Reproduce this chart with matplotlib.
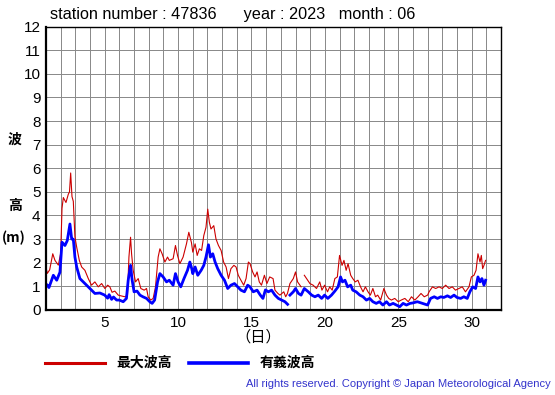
import matplotlib
matplotlib.use("Agg")
import matplotlib.pyplot as plt
import numpy as np

plt.rcParams["font.family"] = ["Liberation Sans", "Noto Sans CJK JP", "DejaVu Sans"]

STATION = "47836"
YEAR = "2023"
MONTH = "06"

# ── data (day of month, metres) ─────────────────────────────────────────────
max_day = [1.0, 1.09, 1.25, 1.46, 1.61, 1.84, 2.0, 2.09, 2.18, 2.36, 2.52, 2.6, 2.68, 2.77,
           2.86, 2.97, 3.09, 3.27, 3.43, 3.65, 3.88, 4.1, 4.33, 4.56, 4.79, 5.01, 5.2, 5.35,
           5.5, 5.69, 5.92, 6.1, 6.37, 6.55, 6.65, 6.76, 6.83, 6.94, 7.1, 7.28, 7.46, 7.69,
           7.85, 7.96, 8.14, 8.3, 8.46, 8.64, 8.76, 8.91, 9.1, 9.28, 9.4, 9.66, 9.82, 9.96,
           10.12, 10.34, 10.57, 10.73, 10.91, 11.0, 11.16, 11.3, 11.45, 11.6, 11.75, 11.9,
           12.02, 12.13, 12.24, 12.43, 12.58, 12.75, 12.93, 13.1, 13.27, 13.43, 13.6, 13.8,
           13.95, 14.1, 14.28, 14.47, 14.63, 14.79, 14.9, 15.08, 15.24, 15.38, 15.53, 15.68,
           15.88, 16.05, 16.24, 16.47, 16.6, 16.8, 16.94, 17.2, 17.33, 17.45, 17.62, 17.85,
           18.0, 18.14, 18.3, 18.38, 18.45, 18.6, 18.75, 18.98, 19.2, 19.43, 19.65, 19.8,
           19.98, 20.18, 20.33, 20.5, 20.68, 20.85, 21.0, 21.17, 21.3, 21.45, 21.58, 21.76,
           21.9, 22.07, 22.25, 22.43, 22.6, 22.76, 22.94, 23.1, 23.27, 23.45, 23.6, 23.8,
           24.02, 24.2, 24.35, 24.53, 24.76, 25.0, 25.2, 25.45, 25.68, 25.9, 26.13, 26.35,
           26.55, 26.77, 27.0, 27.1, 27.33, 27.55, 27.78, 28.0, 28.23, 28.46, 28.68, 28.9,
           29.13, 29.36, 29.58, 29.82, 29.98, 30.16, 30.3, 30.43, 30.57, 30.66, 30.75, 30.84,
           30.95]
max_wave = [1.8, 1.55, 1.7, 2.38, 2.1, 1.9, 2.4, 4.3, 4.76, 4.55, 4.9, 5.0, 5.8, 4.8,
            4.6, 3.1, 2.66, 2.1, 1.82, 1.68, 1.33, 1.05, 1.19, 0.98, 1.12, 0.91, 1.05, 0.98,
            0.75, 0.8, 0.63, 0.6, 0.56, 0.63, 2.24, 3.08, 2.38, 1.68, 1.19, 1.33, 0.91, 0.84,
            0.91, 0.56, 0.42, 0.49, 0.98, 2.24, 2.59, 2.38, 2.03, 2.24, 2.1, 2.17, 2.73, 2.31,
            1.96, 2.24, 2.8, 3.29, 2.85, 2.45, 2.8, 2.31, 2.59, 2.52, 3.15, 3.5,
            4.27, 3.71, 3.43, 3.57, 3.01, 2.73, 2.52, 2.03, 1.82, 1.33, 1.75, 1.89,
            1.82, 1.47, 1.26, 1.05, 1.33, 2.03, 1.96, 1.61, 1.4, 1.61, 1.19, 1.05,
            1.47, 1.12, 1.4, 1.33, 0.84, 0.7, 0.63, 0.77, 0.56, 0.7, 1.12, 1.33,
            1.61, 1.19, 1.05, 0.98, np.nan, 1.47, 1.33, 1.12, 1.05, 0.91, 1.19, 0.84,
            1.05, 0.77, 0.98, 0.84, 1.33, 1.4, 2.31, 1.89, 2.1, 1.68, 1.96, 1.47,
            1.33, 1.19, 1.26, 0.98, 0.77, 0.98, 0.77, 0.63, 0.91, 0.56, 0.63, 0.42,
            0.91, 0.63, 0.49, 0.42, 0.49, 0.35, 0.42, 0.49, 0.35, 0.56, 0.42, 0.56,
            0.7, 0.56, 0.63, 0.77, 0.98, 0.91, 0.98, 0.91, 1.05, 0.91, 0.98, 0.84,
            0.91, 0.98, 0.77, 0.98, 1.4, 1.47, 1.68, 2.38, 2.03, 2.31, 1.75, 1.89,
            2.1]

sig_day = [1.0, 1.09, 1.2, 1.5, 1.73, 1.95, 2.09, 2.29, 2.45, 2.63, 2.75, 2.86, 2.97, 3.09,
           3.31, 3.65, 3.99, 4.33, 4.67, 5.0, 5.2, 5.3, 5.47, 5.6, 5.81, 6.0, 6.26, 6.48,
           6.6, 6.76, 6.87, 7.0, 7.2, 7.4, 7.6, 7.85, 8.07, 8.23, 8.4, 8.6, 8.76, 8.98,
           9.21, 9.4, 9.66, 9.82, 10.0, 10.18, 10.4, 10.64, 10.8, 10.93, 11.0, 11.16, 11.34,
           11.57, 11.75, 11.9, 12.07, 12.2, 12.36, 12.52, 12.7, 12.93, 13.16, 13.38, 13.6,
           13.84, 14.06, 14.28, 14.52, 14.74, 14.9, 15.12, 15.38, 15.6, 15.78, 15.95, 16.15,
           16.37, 16.6, 16.83, 17.05, 17.28, 17.46, 17.54, 17.62, 17.85, 18.0, 18.2, 18.38,
           18.6, 18.87, 19.1, 19.32, 19.55, 19.78, 19.98, 20.2, 20.45, 20.68, 20.9, 21.07,
           21.2, 21.37, 21.55, 21.76, 21.9, 22.13, 22.38, 22.6, 22.83, 23.05, 23.27, 23.5,
           23.72, 23.95, 24.2, 24.4, 24.65, 24.88, 25.1, 25.33, 25.56, 25.8, 26.0, 26.3,
           26.66, 27.0, 27.2, 27.45, 27.67, 27.9, 28.1, 28.35, 28.57, 28.8, 29.0, 29.25,
           29.47, 29.7, 29.88, 30.07, 30.27, 30.43, 30.57, 30.7, 30.84, 30.95]
sig_wave = [1.1, 1.05, 0.95, 1.47, 1.26, 1.6, 2.87, 2.73, 2.94, 3.64, 3.0, 3.0, 2.24, 1.82,
            1.33, 1.12, 0.91, 0.7, 0.72, 0.63, 0.5, 0.65, 0.45, 0.55, 0.42, 0.42, 0.35, 0.49,
            1.26, 1.89, 1.26, 0.77, 0.8, 0.63, 0.56, 0.49, 0.35, 0.28, 0.42, 1.19, 1.54, 1.4,
            1.19, 1.26, 1.05, 1.54, 1.19, 0.98, 1.33, 1.68, 2.03, 1.75, 1.54, 1.82, 1.47,
            1.68, 1.89, 2.24, 2.76, 2.24, 2.38, 2.03, 1.75, 1.47, 1.26, 0.91, 1.05,
            1.12, 0.98, 0.84, 0.77, 1.05, 0.98, 0.77, 0.84, 0.63, 0.49, 0.85, 0.77,
            0.84, 0.63, 0.49, 0.42, 0.35, 0.24, np.nan, 0.63, 0.77, 0.91, 0.7, 0.63,
            0.91, 0.77, 0.63, 0.56, 0.63, 0.49, 0.63, 0.49, 0.63, 0.8, 0.98, 1.4,
            1.19, 1.26, 0.98, 1.05, 0.84, 0.77, 0.63, 0.56, 0.42, 0.49, 0.35, 0.28,
            0.35, 0.21, 0.35, 0.21, 0.28, 0.21, 0.14, 0.28, 0.21, 0.28, 0.3, 0.35,
            0.28, 0.21, 0.49, 0.56, 0.49, 0.56, 0.53, 0.6, 0.53, 0.63, 0.53, 0.49,
            0.56, 0.49, 0.77, 0.98, 0.91, 1.4, 1.19, 1.33, 1.05, 1.26]

x_ticks = [5, 10, 15, 20, 25, 30]
y_ticks = list(range(0, 13))

RED = "#cc0000"
BLUE = "#0000ff"

# ── figure ──────────────────────────────────────────────────────────────────
fig = plt.figure(figsize=(5.55, 3.95), dpi=100)
ax = fig.add_axes([0.0829, 0.2152, 0.8198, 0.7177])

ax.plot(max_day, max_wave, color=RED, linewidth=0.8)
ax.plot(sig_day, sig_wave, color=BLUE, linewidth=2.0)

ax.set_xlim(1, 32)
ax.set_ylim(0, 12)
ax.set_xticks(np.arange(1, 33), minor=True)
ax.set_xticks(x_ticks)
ax.set_yticks(y_ticks)
ax.grid(True, which="both", color="#888888", linewidth=0.7)
ax.set_axisbelow(True)
ax.tick_params(which="both", length=0, labelsize=11, pad=4)
for s in ax.spines.values():
    s.set_color("black")
    s.set_linewidth(1.0)
ax.spines["left"].set_linewidth(1.6)
ax.spines["bottom"].set_linewidth(1.6)

fig.text(50 / 555, 1 - 15 / 395,
         f"station number : {STATION}      year : {YEAR}   month : {MONTH}",
         fontsize=11.7, va="center", ha="left")

jp = ["Noto Sans CJK JP", "DejaVu Sans"]
for txt, y in [("波", 140), ("高", 206)]:
    fig.text(15 / 555, 1 - y / 395, txt, family=jp, fontsize=10, fontweight="bold",
             ha="center", va="center")
fig.text(14 / 555, 1 - 238 / 395, "(m)", family=jp, fontsize=10, fontweight="bold",
         ha="center", va="center")
fig.text(258 / 555, 1 - 337 / 395, "（日）", family=jp, fontsize=11,
         ha="center", va="center")

# legend drawn by hand below the axes
fig.add_artist(plt.Line2D([45 / 555, 105 / 555], [1 - 363 / 395] * 2, color=RED, linewidth=2.2))
fig.text(116 / 555, 1 - 363 / 395, "最大波高", family=jp, fontsize=10, fontweight="bold",
         va="center", ha="left")
fig.add_artist(plt.Line2D([189 / 555, 248 / 555], [1 - 363 / 395] * 2, color=BLUE, linewidth=2.6))
fig.text(260 / 555, 1 - 363 / 395, "有義波高", family=jp, fontsize=10, fontweight="bold",
         va="center", ha="left")

fig.text(551 / 555, 1 - 384 / 395,
         "All rights reserved. Copyright © Japan Meteorological Agency",
         fontsize=8, color="#3333cc", ha="right", va="center")

fig.savefig("out.png", dpi=100)
